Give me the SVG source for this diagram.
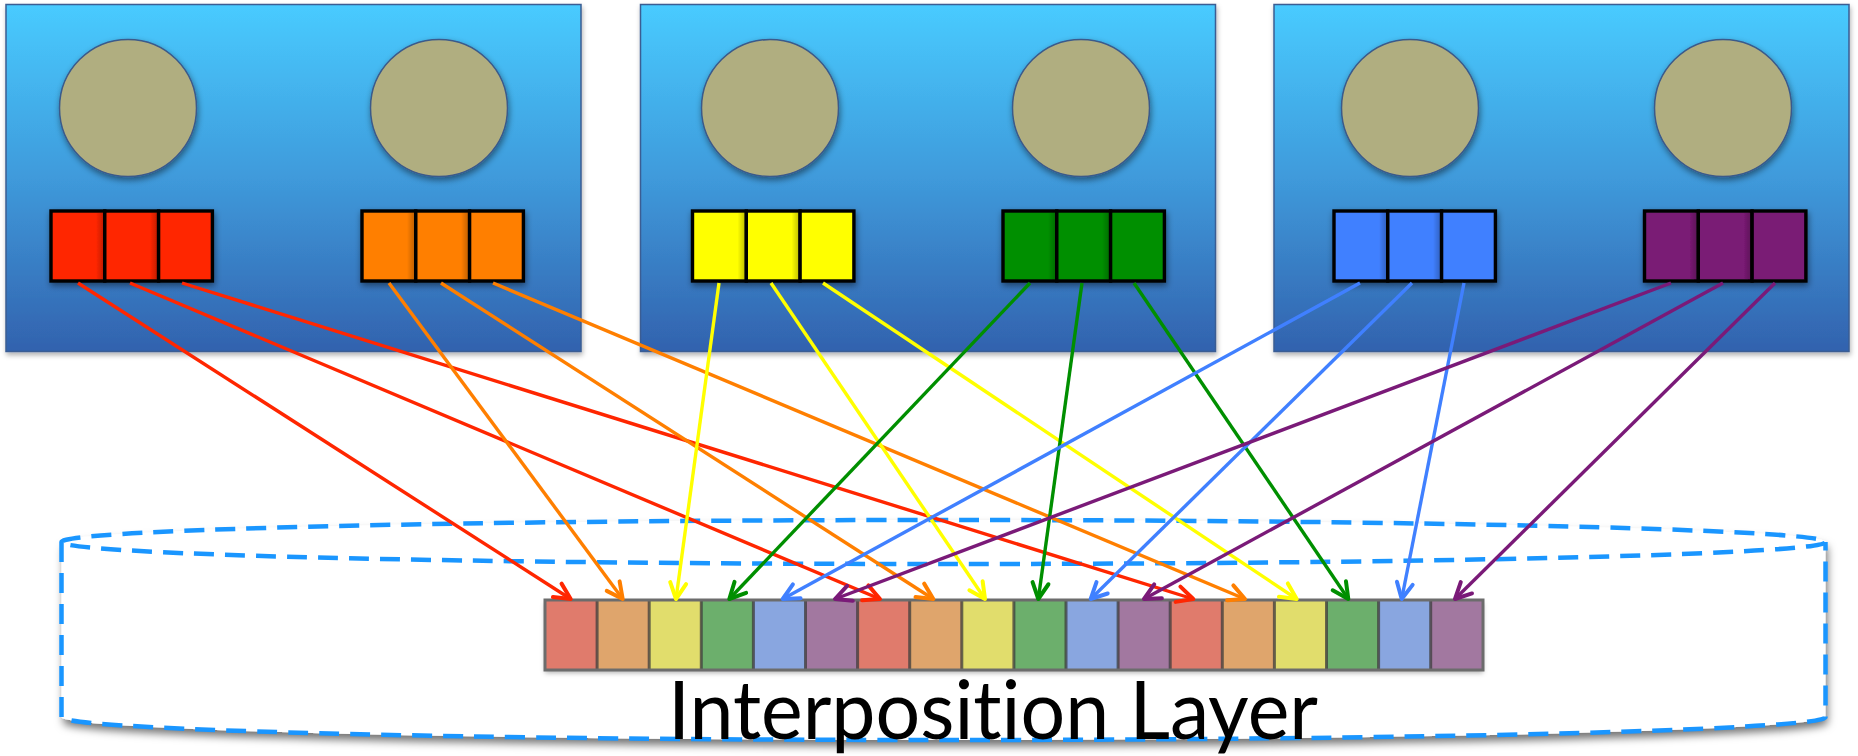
<svg xmlns="http://www.w3.org/2000/svg" width="1858" height="756" viewBox="0 0 1858 756">
  <defs>
    <linearGradient id="panelFill" x1="0" y1="0" x2="0" y2="1">
      <stop offset="0" stop-color="#48CBFF"/>
      <stop offset="0.5" stop-color="#3F9ADB"/>
      <stop offset="1" stop-color="#3262AE"/>
    </linearGradient>
    <linearGradient id="cellShade" x1="0" y1="0" x2="1" y2="0">
      <stop offset="0" stop-color="#000" stop-opacity="0"/>
      <stop offset="1" stop-color="#000" stop-opacity="0.22"/>
    </linearGradient>
    <filter id="panelShadow" x="-5%" y="-5%" width="110%" height="115%">
      <feDropShadow dx="1" dy="3" stdDeviation="2.5" flood-color="#000" flood-opacity="0.3"/>
    </filter>
    <filter id="softShadow" x="-20%" y="-20%" width="140%" height="150%">
      <feDropShadow dx="1" dy="3" stdDeviation="3" flood-color="#000" flood-opacity="0.45"/>
    </filter>
    <filter id="cylShadow" x="-5%" y="-20%" width="110%" height="150%">
      <feDropShadow dx="2" dy="6" stdDeviation="4" flood-color="#000" flood-opacity="0.55"/>
    </filter>
    <filter id="barShadow" x="-5%" y="-20%" width="110%" height="150%">
      <feDropShadow dx="0" dy="3" stdDeviation="2.5" flood-color="#000" flood-opacity="0.3"/>
    </filter>
    <marker id="ahRed" markerUnits="userSpaceOnUse" orient="auto" markerWidth="40" markerHeight="40" refX="0" refY="0" overflow="visible"><path class="ah" d="M-16,-8 L0,0 L-16,8" stroke="#FF2600"/></marker>
    <marker id="ahOrange" markerUnits="userSpaceOnUse" orient="auto" markerWidth="40" markerHeight="40" refX="0" refY="0" overflow="visible"><path class="ah" d="M-16,-8 L0,0 L-16,8" stroke="#FF7F00"/></marker>
    <marker id="ahYellow" markerUnits="userSpaceOnUse" orient="auto" markerWidth="40" markerHeight="40" refX="0" refY="0" overflow="visible"><path class="ah" d="M-16,-8 L0,0 L-16,8" stroke="#FFFF00"/></marker>
    <marker id="ahGreen" markerUnits="userSpaceOnUse" orient="auto" markerWidth="40" markerHeight="40" refX="0" refY="0" overflow="visible"><path class="ah" d="M-16,-8 L0,0 L-16,8" stroke="#008F00"/></marker>
    <marker id="ahBlue" markerUnits="userSpaceOnUse" orient="auto" markerWidth="40" markerHeight="40" refX="0" refY="0" overflow="visible"><path class="ah" d="M-16,-8 L0,0 L-16,8" stroke="#4080FF"/></marker>
    <marker id="ahPurple" markerUnits="userSpaceOnUse" orient="auto" markerWidth="40" markerHeight="40" refX="0" refY="0" overflow="visible"><path class="ah" d="M-16,-8 L0,0 L-16,8" stroke="#7A1A78"/></marker>
  </defs>
  <style>
    .panel { fill: url(#panelFill); stroke: #3A5D93; stroke-width: 1.5; filter: url(#panelShadow); }
    .core { fill: #B0AE80; stroke: #3B5A8A; stroke-width: 1.5; filter: url(#softShadow); }
    .blk { filter: url(#softShadow); }
    .cell { stroke: #000; stroke-width: 3.4; }
    .shade { fill: url(#cellShade); }
    .ah { fill: none; stroke-width: 4; stroke-linecap: round; stroke-linejoin: round; }
    .wire { fill: none; stroke-width: 3.4; }
    .cyl { fill: none; stroke: #1A96FF; stroke-width: 4.5; stroke-dasharray: 20 11; }
    .slot { stroke: none; }
    .sep { stroke: #3C3C3C; stroke-opacity: 0.75; stroke-width: 3; }
    .label { font-family: Lato, "Open Sans", "Liberation Sans", sans-serif; font-size: 82px; fill: #000; font-variant-ligatures: none; font-feature-settings: "liga" 0, "clig" 0; }
  </style>

  <!-- host 1 -->
  <g id="host1">
    <rect class="panel" x="6" y="4.5" width="575" height="347"/>
    <circle class="core" cx="128" cy="108" r="68.5"/>
    <circle class="core" cx="439" cy="108" r="68.5"/>
    <g id="buf-red" class="blk">
      <rect class="cell" x="51" y="211" width="53.8" height="70" fill="#FF2600"/>
      <rect class="cell" x="104.8" y="211" width="53.8" height="70" fill="#FF2600"/>
      <rect class="cell" x="158.6" y="211" width="53.8" height="70" fill="#FF2600"/>
      <rect class="shade" x="96" y="212.5" width="7" height="67"/>
      <rect class="shade" x="150" y="212.5" width="7" height="67"/>
    </g>
    <g id="buf-orange" class="blk">
      <rect class="cell" x="362" y="211" width="53.8" height="70" fill="#FF7F00"/>
      <rect class="cell" x="415.8" y="211" width="53.8" height="70" fill="#FF7F00"/>
      <rect class="cell" x="469.6" y="211" width="53.8" height="70" fill="#FF7F00"/>
      <rect class="shade" x="407" y="212.5" width="7" height="67"/>
      <rect class="shade" x="461" y="212.5" width="7" height="67"/>
    </g>
  </g>

  <!-- host 2 -->
  <g id="host2">
    <rect class="panel" x="640.5" y="4.5" width="575" height="347"/>
    <circle class="core" cx="770" cy="108" r="68.5"/>
    <circle class="core" cx="1081" cy="108" r="68.5"/>
    <g id="buf-yellow" class="blk">
      <rect class="cell" x="692.5" y="211" width="53.8" height="70" fill="#FFFF00"/>
      <rect class="cell" x="746.3" y="211" width="53.8" height="70" fill="#FFFF00"/>
      <rect class="cell" x="800.1" y="211" width="53.8" height="70" fill="#FFFF00"/>
      <rect class="shade" x="737.5" y="212.5" width="7" height="67"/>
      <rect class="shade" x="791.5" y="212.5" width="7" height="67"/>
    </g>
    <g id="buf-green" class="blk">
      <rect class="cell" x="1003" y="211" width="53.8" height="70" fill="#008F00"/>
      <rect class="cell" x="1056.8" y="211" width="53.8" height="70" fill="#008F00"/>
      <rect class="cell" x="1110.6" y="211" width="53.8" height="70" fill="#008F00"/>
      <rect class="shade" x="1048" y="212.5" width="7" height="67"/>
      <rect class="shade" x="1102" y="212.5" width="7" height="67"/>
    </g>
  </g>

  <!-- host 3 -->
  <g id="host3">
    <rect class="panel" x="1274" y="4.5" width="575" height="347"/>
    <circle class="core" cx="1410" cy="108" r="68.5"/>
    <circle class="core" cx="1723" cy="108" r="68.5"/>
    <g id="buf-blue" class="blk">
      <rect class="cell" x="1334" y="211" width="53.8" height="70" fill="#4080FF"/>
      <rect class="cell" x="1387.8" y="211" width="53.8" height="70" fill="#4080FF"/>
      <rect class="cell" x="1441.6" y="211" width="53.8" height="70" fill="#4080FF"/>
      <rect class="shade" x="1379" y="212.5" width="7" height="67"/>
      <rect class="shade" x="1433" y="212.5" width="7" height="67"/>
    </g>
    <g id="buf-purple" class="blk">
      <rect class="cell" x="1644.5" y="211" width="53.8" height="70" fill="#7A1A74"/>
      <rect class="cell" x="1698.3" y="211" width="53.8" height="70" fill="#7A1A74"/>
      <rect class="cell" x="1752.1" y="211" width="53.8" height="70" fill="#7A1A74"/>
      <rect class="shade" x="1689.5" y="212.5" width="7" height="67"/>
      <rect class="shade" x="1743.5" y="212.5" width="7" height="67"/>
    </g>
  </g>

  <!-- interposition layer: dashed cylinder -->
  <g id="layer">
    <path d="M61.5,542 A882,22 0 0 1 1825.5,542 L1825.5,717 A882,23 0 0 1 61.5,717 Z" fill="#fff" filter="url(#cylShadow)"/>
    <path class="cyl" d="M61.5,542 A882,22 0 0 1 1825.5,542 A882,22 0 0 1 61.5,542 Z"/>
    <path class="cyl" d="M61.5,542 L61.5,717 A882,23 0 0 0 1825.5,717 L1825.5,542"/>
  </g>

  <!-- interleaved slots -->
  <g id="slots">
    <rect x="545" y="600" width="938" height="70" fill="#E07B6C" filter="url(#barShadow)"/>
    <rect class="slot" x="545" y="600" width="52.1" height="70" fill="#E07B6C"/>
    <rect class="slot" x="597.1" y="600" width="52.1" height="70" fill="#DFA56C"/>
    <rect class="slot" x="649.2" y="600" width="52.1" height="70" fill="#E1DD6C"/>
    <rect class="slot" x="701.3" y="600" width="52.1" height="70" fill="#6CAF6C"/>
    <rect class="slot" x="753.4" y="600" width="52.1" height="70" fill="#89A6E0"/>
    <rect class="slot" x="805.5" y="600" width="52.1" height="70" fill="#A278A0"/>
    <rect class="slot" x="857.6" y="600" width="52.1" height="70" fill="#E07B6C"/>
    <rect class="slot" x="909.7" y="600" width="52.1" height="70" fill="#DFA56C"/>
    <rect class="slot" x="961.8" y="600" width="52.1" height="70" fill="#E1DD6C"/>
    <rect class="slot" x="1013.9" y="600" width="52.1" height="70" fill="#6CAF6C"/>
    <rect class="slot" x="1066" y="600" width="52.1" height="70" fill="#89A6E0"/>
    <rect class="slot" x="1118.1" y="600" width="52.1" height="70" fill="#A278A0"/>
    <rect class="slot" x="1170.2" y="600" width="52.1" height="70" fill="#E07B6C"/>
    <rect class="slot" x="1222.3" y="600" width="52.1" height="70" fill="#DFA56C"/>
    <rect class="slot" x="1274.4" y="600" width="52.1" height="70" fill="#E1DD6C"/>
    <rect class="slot" x="1326.5" y="600" width="52.1" height="70" fill="#6CAF6C"/>
    <rect class="slot" x="1378.6" y="600" width="52.1" height="70" fill="#89A6E0"/>
    <rect class="slot" x="1430.7" y="600" width="52.1" height="70" fill="#A278A0"/>
    <path class="sep" d="M597.1,600V670 M649.2,600V670 M701.3,600V670 M753.4,600V670 M805.5,600V670 M857.6,600V670 M909.7,600V670 M961.8,600V670 M1013.9,600V670 M1066,600V670 M1118.1,600V670 M1170.2,600V670 M1222.3,600V670 M1274.4,600V670 M1326.5,600V670 M1378.6,600V670 M1430.7,600V670"/>
    <rect x="545" y="600" width="938" height="70" fill="none" stroke="#6C6C6C" stroke-width="3"/>
  </g>

  <text class="label" x="668" y="739" textLength="650" lengthAdjust="spacingAndGlyphs">Interposition Layer</text>

  <!-- connectors: each buffer cell k of colour c feeds slot 6k+c -->
  <g id="connectors">
    <line class="wire" x1="78" y1="283" x2="570.7" y2="599" stroke="#FF2600" marker-end="url(#ahRed)"/>
    <line class="wire" x1="130" y1="283" x2="880" y2="599" stroke="#FF2600" marker-end="url(#ahRed)"/>
    <line class="wire" x1="182" y1="283" x2="1193.3" y2="599" stroke="#FF2600" marker-end="url(#ahRed)"/>

    <line class="wire" x1="389" y1="283" x2="622.7" y2="599" stroke="#FF7F00" marker-end="url(#ahOrange)"/>
    <line class="wire" x1="441" y1="283" x2="933.3" y2="599" stroke="#FF7F00" marker-end="url(#ahOrange)"/>
    <line class="wire" x1="493" y1="283" x2="1245" y2="599" stroke="#FF7F00" marker-end="url(#ahOrange)"/>

    <line class="wire" x1="719" y1="283" x2="676" y2="599" stroke="#FFFF00" marker-end="url(#ahYellow)"/>
    <line class="wire" x1="771" y1="283" x2="985" y2="599" stroke="#FFFF00" marker-end="url(#ahYellow)"/>
    <line class="wire" x1="823" y1="283" x2="1296.7" y2="599" stroke="#FFFF00" marker-end="url(#ahYellow)"/>

    <line class="wire" x1="1030" y1="283" x2="729.3" y2="599" stroke="#008F00" marker-end="url(#ahGreen)"/>
    <line class="wire" x1="1082" y1="283" x2="1038.3" y2="599" stroke="#008F00" marker-end="url(#ahGreen)"/>
    <line class="wire" x1="1134" y1="283" x2="1348.3" y2="599" stroke="#008F00" marker-end="url(#ahGreen)"/>

    <line class="wire" x1="1360" y1="283" x2="782.7" y2="599" stroke="#4080FF" marker-end="url(#ahBlue)"/>
    <line class="wire" x1="1412" y1="283" x2="1090.7" y2="599" stroke="#4080FF" marker-end="url(#ahBlue)"/>
    <line class="wire" x1="1464" y1="283" x2="1401.7" y2="599" stroke="#4080FF" marker-end="url(#ahBlue)"/>

    <line class="wire" x1="1671" y1="283" x2="835" y2="599" stroke="#7A1A78" marker-end="url(#ahPurple)"/>
    <line class="wire" x1="1723" y1="283" x2="1144" y2="599" stroke="#7A1A78" marker-end="url(#ahPurple)"/>
    <line class="wire" x1="1775" y1="283" x2="1455" y2="599" stroke="#7A1A78" marker-end="url(#ahPurple)"/>
  </g>
</svg>
